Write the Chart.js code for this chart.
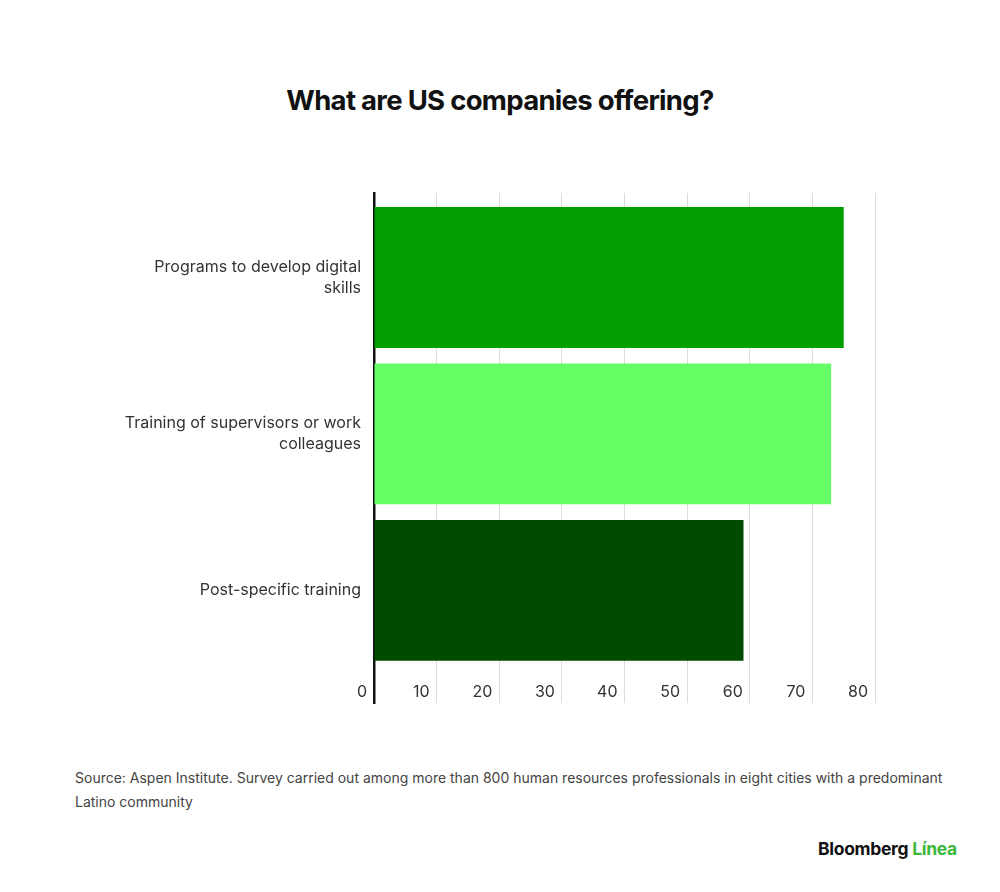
<!DOCTYPE html>
<html>
<head>
<meta charset="utf-8">
<script src="https://cdn.jsdelivr.net/npm/chart.js@4"></script>
<style>
  body { margin: 0; background: #fff; font-family: Inter, "Noto Sans", sans-serif; }
  #page { position: relative; width: 1000px; height: 892px; overflow: hidden; }
  #title { position: absolute; top: 83px; left: 0; width: 1000px; text-align: center;
           font-size: 27.5px; font-weight: 700; color: #111; letter-spacing: -0.7px; }
  #wrap { position: absolute; left: 0; top: 180px; width: 1000px; height: 533px; }
  #source { position: absolute; left: 75px; top: 766px; width: 880px; font-size: 14px;
            line-height: 24px; color: #444; letter-spacing: 0; }
  #logo { position: absolute; left: 818px; top: 838px; font-size: 17.5px; font-weight: 700;
          color: #111; letter-spacing: -0.3px; }
  #logo span { color: #3cb83c; }
</style>
</head>
<body>
<div id="page">
  <div id="title">What are US companies offering?</div>
  <div id="wrap"><canvas id="offerChart"></canvas></div>
  <div id="source">Source: Aspen Institute. Survey carried out among more than 800 human resources professionals in eight cities with a predominant Latino community</div>
  <div id="logo">Bloomberg <span>Línea</span></div>
</div>
<script>
const categories = [
    ['Programs to develop digital', 'skills'],
    ['Training of supervisors or work', 'colleagues'],
    ['Post-specific training']
];
const values = [75, 73, 59];
const barColors = ['#009e00', '#66ff66', '#004b00'];
const xTicks = [0, 10, 20, 30, 40, 50, 60, 70, 80];

Chart.defaults.font.family = 'Inter, "Noto Sans", sans-serif';
Chart.defaults.color = '#333';

const ctx = document.getElementById('offerChart');
new Chart(ctx, {
    type: 'bar',
    data: {
        datasets: [
            {
                data: values.map((v, i) => ({ x: v, y: i })),
                backgroundColor: barColors,
                borderWidth: 0,
                barPercentage: 0.9,
                categoryPercentage: 1
            }
        ]
    },
    options: {
        indexAxis: 'y',
        responsive: true,
        maintainAspectRatio: false,
        animation: false,
        layout: {
            padding: { top: 13, right: 125, bottom: 0, left: 0 }
        },
        plugins: {
            legend: { display: false },
            tooltip: { enabled: false }
        },
        scales: {
            x: {
                type: 'linear',
                min: 0,
                max: 80,
                afterBuildTicks: (scale) => {
                    scale.ticks = xTicks.map(v => ({ value: v }));
                },
                afterFit: (scale) => {
                    scale.height = 10;
                    scale.paddingLeft = 0;
                    scale.paddingRight = 0;
                },
                grid: {
                    drawTicks: false,
                    color: (c) => c.tick && c.tick.value === 0 ? 'rgba(0,0,0,0)' : '#dcdcdc',
                    lineWidth: 1
                },
                border: { display: false },
                ticks: {
                    mirror: true,
                    padding: 1,
                    align: 'end',
                    labelOffset: -7,
                    font: { size: 16 },
                    color: '#333'
                }
            },
            y: {
                type: 'linear',
                reverse: true,
                offset: false,
                min: -0.54,
                max: 2.72,
                afterBuildTicks: (scale) => {
                    scale.ticks = categories.map((c, i) => ({ value: i }));
                },
                afterFit: (scale) => {
                    scale.width = 374;
                    scale.paddingTop = 0;
                    scale.paddingBottom = 0;
                },
                grid: { display: false, drawTicks: false },
                border: { display: true, color: '#111', width: 2.5 },
                ticks: {
                    padding: 13,
                    font: { size: 16, lineHeight: 1.3 },
                    color: '#333',
                    callback: (v) => categories[v]
                }
            }
        }
    }
});
</script>
</body>
</html>
